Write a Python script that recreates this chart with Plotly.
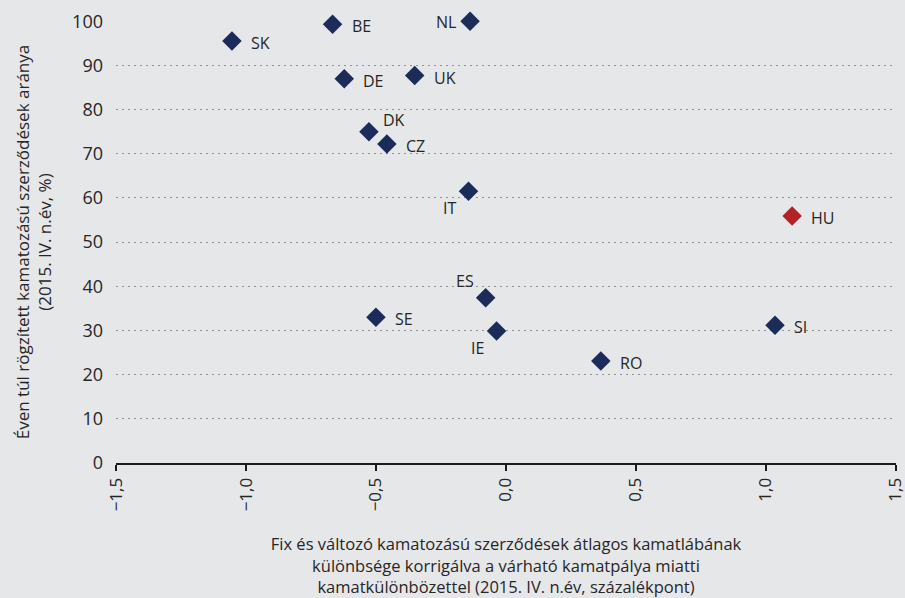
import plotly.graph_objects as go

countries = ["SK", "BE", "NL", "DE", "UK", "DK", "CZ", "IT", "ES", "SE", "IE", "RO", "SI", "HU"]
x_vals = [-1.054, -0.667, -0.138, -0.622, -0.351, -0.527, -0.458, -0.144, -0.078, -0.500, -0.036, 0.365, 1.035, 1.101]
y_vals = [95.5, 99.3, 100.0, 87.0, 87.7, 75.0, 72.2, 61.5, 37.4, 33.0, 29.9, 23.1, 31.2, 55.9]
label_side = ["right", "right", "left", "right", "right", "top right", "right",
              "bottom left", "top left", "right", "bottom left", "right", "right", "right"]

x_tickvals = [-1.5, -1.0, -0.5, 0.0, 0.5, 1.0, 1.5]
x_ticktext = ["\u22121,5", "\u22121,0", "\u22120,5", "0,0", "0,5", "1,0", "1,5"]
y_tickvals = [0, 10, 20, 30, 40, 50, 60, 70, 80, 90, 100]

x_title = ("Fix és változó kamatozású szerződések átlagos kamatlábának<br>"
           "különbsége korrigálva a várható kamatpálya miatti<br>"
           "kamatkülönbözettel (2015. IV. n.év, százalékpont)")
y_title = "Éven túl rögzített kamatozású szerződések aránya<br>(2015. IV. n.év, %)"

NAVY = "#1B2C5A"
RED = "#B22227"
BG = "#E6E7E9"
TXT = "#262626"
AXC = "#1a1a1a"
FONT = "Open Sans"

# label placement styles (anchor, x-shift, y-shift in px)
LABEL_STYLE = {
    "right": dict(xanchor="left", xshift=17, yshift=-2),
    "left": dict(xanchor="right", xshift=-12, yshift=-1),
    "top right": dict(xanchor="left", xshift=12, yshift=12),
    "bottom left": dict(xanchor="right", xshift=-11, yshift=-17),
    "top left": dict(xanchor="right", xshift=-10, yshift=17),
}

colors = [RED if c == "HU" else NAVY for c in countries]

fig = go.Figure()
fig.add_trace(go.Scatter(
    x=x_vals, y=y_vals, mode="markers",
    marker=dict(symbol="diamond", size=15, color=colors, line=dict(width=0)),
    cliponaxis=False, showlegend=False, hoverinfo="skip",
))

for c, xv, yv, side in zip(countries, x_vals, y_vals, label_side):
    st = LABEL_STYLE[side]
    fig.add_annotation(x=xv, y=yv, text=c, showarrow=False, yanchor="middle",
                       font=dict(family=FONT, size=16, color=TXT), **st)

fig.update_layout(
    width=905, height=598,
    paper_bgcolor=BG, plot_bgcolor=BG,
    margin=dict(l=116, r=9, t=21, b=135),
    font=dict(family=FONT, size=16, color=TXT),
    xaxis=dict(
        range=[-1.5, 1.5005], tickvals=x_tickvals, ticktext=x_ticktext,
        tickangle=-90, showgrid=False, zeroline=False, automargin=False,
        showline=True, linecolor=AXC, linewidth=2,
        ticks="outside", ticklen=6, tickwidth=2, tickcolor=AXC,
        ticklabeloverflow="allow",
        title=dict(text=x_title, standoff=35, font=dict(size=16.5)),
        tickfont=dict(size=17),
    ),
    yaxis=dict(
        range=[0, 100.05], tickvals=y_tickvals, automargin=False,
        showgrid=True, gridcolor="#8f8f8f", griddash="2px,4px", gridwidth=1,
        zeroline=False, showline=False, ticks="",
        ticklabelstandoff=12, ticklabeloverflow="allow",
        title=dict(text=y_title, standoff=16, font=dict(size=17)),
        tickfont=dict(size=18),
    ),
    yaxis2=dict(
        range=[0, 100.05], tickvals=y_tickvals, overlaying="y", anchor="free",
        position=0.5, side="left", showgrid=False, zeroline=False,
        showline=True, linecolor=AXC, linewidth=2,
        ticks="outside", ticklen=6, tickwidth=2, tickcolor=AXC,
        showticklabels=False, automargin=False,
    ),
)

fig.write_html("out.html", config={"displayModeBar": False},
               post_script="document.body.style.margin='0';document.body.style.background='%s';" % BG)
